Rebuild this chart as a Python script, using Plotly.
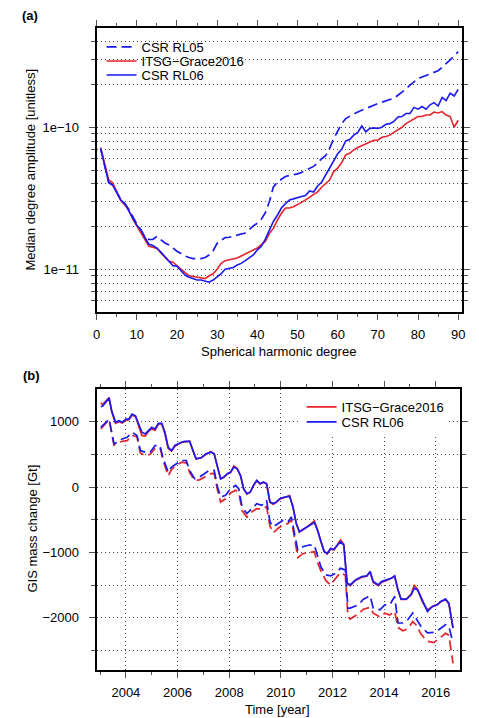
import plotly.graph_objects as go
import math

# ---------------- Panel (a) data ----------------
degree = list(range(1, 91))

csr_rl05 = [
    7.1e-11, 5.3e-11, 4.1e-11, 3.95e-11, 3.5e-11, 3.1e-11, 2.9e-11, 2.65e-11, 2.35e-11, 2.08e-11,
    1.9e-11, 1.68e-11, 1.62e-11, 1.62e-11, 1.7e-11, 1.6e-11, 1.53e-11, 1.48e-11, 1.4e-11, 1.34e-11,
    1.29e-11, 1.24e-11, 1.21e-11, 1.19e-11, 1.19e-11, 1.19e-11, 1.21e-11, 1.26e-11, 1.35e-11, 1.52e-11,
    1.6e-11, 1.67e-11, 1.68e-11, 1.71e-11, 1.74e-11, 1.76e-11, 1.8e-11, 1.9e-11, 2.02e-11, 2.11e-11,
    2.25e-11, 2.5e-11, 3.0e-11, 3.8e-11, 4.1e-11, 4.3e-11, 4.5e-11, 4.58e-11, 4.62e-11, 4.7e-11,
    4.8e-11, 4.95e-11, 5.1e-11, 5.3e-11, 5.6e-11, 6.0e-11, 6.3e-11, 7.1e-11, 8.3e-11, 9.4e-11,
    1.06e-10, 1.15e-10, 1.2e-10, 1.24e-10, 1.28e-10, 1.32e-10, 1.36e-10, 1.39e-10, 1.43e-10, 1.47e-10,
    1.5e-10, 1.54e-10, 1.56e-10, 1.6e-10, 1.68e-10, 1.76e-10, 1.86e-10, 1.98e-10, 2.1e-10, 2.2e-10,
    2.26e-10, 2.32e-10, 2.36e-10, 2.42e-10, 2.5e-10, 2.65e-10, 2.8e-10, 2.98e-10, 3.18e-10, 3.41e-10,
]

itsg_2016 = [
    7.2e-11, 5.6e-11, 4.25e-11, 4.07e-11, 3.5e-11, 3.05e-11, 2.84e-11, 2.6e-11, 2.25e-11, 2.02e-11,
    1.8e-11, 1.6e-11, 1.45e-11, 1.43e-11, 1.4e-11, 1.3e-11, 1.22e-11, 1.14e-11, 1.12e-11, 1.06e-11,
    1.0e-11, 9.5e-12, 9.0e-12, 8.9e-12, 8.8e-12, 8.8e-12, 8.6e-12, 9.0e-12, 9.3e-12, 1.0e-11,
    1.1e-11, 1.15e-11, 1.17e-11, 1.19e-11, 1.2e-11, 1.24e-11, 1.28e-11, 1.31e-11, 1.35e-11, 1.41e-11,
    1.49e-11, 1.57e-11, 1.79e-11, 1.94e-11, 2.22e-11, 2.48e-11, 2.7e-11, 2.7e-11, 2.76e-11, 2.84e-11,
    2.96e-11, 3.08e-11, 3.2e-11, 3.34e-11, 3.5e-11, 3.78e-11, 4.0e-11, 4.25e-11, 4.87e-11, 5.15e-11,
    5.64e-11, 6.4e-11, 6.56e-11, 6.93e-11, 7.2e-11, 7.4e-11, 7.6e-11, 7.9e-11, 8.1e-11, 8.1e-11,
    8.5e-11, 8.6e-11, 8.8e-11, 9.2e-11, 9.6e-11, 1.0e-10, 1.06e-10, 1.1e-10, 1.14e-10, 1.19e-10,
    1.19e-10, 1.22e-10, 1.22e-10, 1.28e-10, 1.26e-10, 1.29e-10, 1.22e-10, 1.19e-10, 1.0e-10, 1.12e-10,
]

csr_rl06 = [
    7.1e-11, 5.3e-11, 4.07e-11, 3.9e-11, 3.5e-11, 3.08e-11, 2.9e-11, 2.6e-11, 2.3e-11, 2.04e-11,
    1.9e-11, 1.68e-11, 1.5e-11, 1.47e-11, 1.41e-11, 1.32e-11, 1.23e-11, 1.15e-11, 1.06e-11, 1.05e-11,
    9.8e-12, 9.1e-12, 8.8e-12, 8.6e-12, 8.4e-12, 8.4e-12, 8.2e-12, 8.1e-12, 8.4e-12, 8.8e-12,
    9.3e-12, 1.0e-11, 1.02e-11, 1.03e-11, 1.07e-11, 1.1e-11, 1.15e-11, 1.2e-11, 1.26e-11, 1.37e-11,
    1.45e-11, 1.63e-11, 1.9e-11, 2.17e-11, 2.4e-11, 2.7e-11, 2.9e-11, 3.08e-11, 3.13e-11, 3.2e-11,
    3.25e-11, 3.3e-11, 3.56e-11, 3.5e-11, 3.86e-11, 4.1e-11, 4.6e-11, 5.15e-11, 5.9e-11, 6.5e-11,
    7.0e-11, 8.0e-11, 8.2e-11, 8.8e-11, 9.2e-11, 1.02e-10, 9.3e-11, 9.8e-11, 9.9e-11, 9.8e-11,
    1.0e-10, 1.05e-10, 1.06e-10, 1.1e-10, 1.18e-10, 1.19e-10, 1.25e-10, 1.25e-10, 1.38e-10, 1.34e-10,
    1.4e-10, 1.34e-10, 1.44e-10, 1.49e-10, 1.41e-10, 1.62e-10, 1.54e-10, 1.74e-10, 1.66e-10, 1.85e-10,
]

# ---------------- Panel (b) data ----------------
time_solid = [
    2003.03, 2003.10, 2003.35, 2003.45, 2003.60, 2003.73, 2003.86, 2004.00, 2004.12, 2004.24,
    2004.37, 2004.49, 2004.62, 2004.75, 2004.87, 2005.00, 2005.13, 2005.26, 2005.39, 2005.51,
    2005.64, 2005.77, 2005.90, 2006.02, 2006.15, 2006.28, 2006.47, 2006.60, 2006.72, 2006.91,
    2007.10, 2007.29, 2007.42, 2007.55, 2007.67, 2007.80, 2007.93, 2008.06, 2008.18, 2008.31,
    2008.44, 2008.56, 2008.69, 2008.82, 2008.94, 2009.07, 2009.20, 2009.33, 2009.45, 2009.58,
    2009.71, 2009.83, 2009.96, 2010.15, 2010.34, 2010.47, 2010.60, 2010.72, 2010.91, 2011.10,
    2011.30, 2011.42, 2011.55, 2011.68, 2011.80, 2011.93, 2012.06, 2012.19, 2012.31, 2012.44,
    2012.57, 2012.69, 2012.89, 2013.14, 2013.33, 2013.46, 2013.58, 2013.78, 2013.90, 2014.09,
    2014.28, 2014.41, 2014.54, 2014.66, 2014.86, 2015.05, 2015.17, 2015.30, 2015.49, 2015.68,
    2015.87, 2016.06, 2016.19, 2016.38, 2016.51, 2016.67,
]

itsg_mass = [
    1290, 1260, 1370, 1150, 975, 1000, 980, 1020, 1030, 1100,
    1080, 940, 790, 780, 850, 890, 870, 960, 970, 820,
    590, 550, 625, 655, 680, 690, 700, 550, 430, 445,
    500, 545, 510, 300, 125, 150, 200, 225, 320, 285,
    170, -30, -110, -80, 20, 95, 45, 70, 50, -235,
    -265, -235, -185, -160, -130, -300, -560, -690, -640, -585,
    -520, -650, -830, -985, -1025, -950, -965, -880, -810, -875,
    -1480, -1510, -1430, -1380, -1365, -1300, -1460, -1510, -1460, -1430,
    -1400, -1370, -1580, -1720, -1720, -1640, -1500, -1570, -1760, -1880,
    -1830, -1800, -1760, -1720, -1790, -2160,
]

csr_rl06_mass = [
    1230, 1240, 1360, 1167, 990, 1015, 990, 1040, 1040, 1117,
    1090, 964, 838, 812, 863, 914, 888, 975, 975, 838,
    609, 558, 635, 660, 685, 700, 700, 558, 431, 447,
    508, 533, 508, 305, 127, 152, 203, 228, 305, 279,
    178, -25, -102, -76, 25, 102, 51, 76, 51, -228,
    -254, -228, -178, -152, -142, -305, -558, -685, -635, -584,
    -543, -660, -838, -990, -1015, -939, -954, -888, -838, -888,
    -1472, -1497, -1421, -1370, -1360, -1294, -1447, -1497, -1447, -1421,
    -1396, -1360, -1574, -1716, -1716, -1650, -1548, -1574, -1751, -1904,
    -1827, -1802, -1751, -1716, -1777, -2157,
]

time_dashed = [
    2003.03, 2003.35, 2003.54, 2003.67, 2003.86,
    2004.05, 2004.24, 2004.43, 2004.56, 2004.75, 2004.94,
    2005.13, 2005.32, 2005.45, 2005.64, 2005.77, 2005.96,
    2006.15, 2006.34, 2006.47, 2006.66, 2006.85,
    2007.04, 2007.23, 2007.42, 2007.55, 2007.67, 2007.86,
    2008.06, 2008.25, 2008.37, 2008.50, 2008.69, 2008.88,
    2009.07, 2009.26, 2009.45, 2009.58, 2009.71, 2009.90,
    2010.09, 2010.28, 2010.41, 2010.53, 2010.66, 2010.85,
    2011.10, 2011.30, 2011.42, 2011.55, 2011.74, 2011.93,
    2012.12, 2012.31, 2012.50, 2012.60, 2012.69,
    2013.01, 2013.20, 2013.46, 2013.58, 2013.84,
    2014.03, 2014.22, 2014.41, 2014.54, 2014.73, 2014.92,
    2015.11, 2015.24, 2015.43, 2015.68, 2015.93,
    2016.12, 2016.38, 2016.51, 2016.67,
]

itsg_mass_dashed = [
    888, 1030, 640, 670, 700,
    710, 790, 770, 520, 480, 500,
    590, 600, 400, 170, 270, 330,
    380, 370, 220, 100, 110,
    150, 200, 210, -50, -230, -180,
    -90, -50, -80, -360, -460, -380,
    -330, -340, -300, -600, -700, -630,
    -580, -560, -500, -800, -1080, -1020,
    -1000, -990, -1150, -1280, -1430, -1500,
    -1400, -1310, -1350, -1980, -2020,
    -1940, -1870, -1840, -1930, -1990,
    -1930, -1960, -1900, -2150, -2200, -2170,
    -2060, -2110, -2250, -2360, -2380,
    -2320, -2240, -2270, -2700,
]

csr_rl06_mass_dashed = [
    914, 1040, 660, 685, 736,
    761, 838, 787, 558, 533, 533,
    635, 635, 431, 228, 305, 355,
    406, 406, 254, 127, 152,
    203, 254, 254, 0, -152, -127,
    -25, 25, -25, -305, -406, -330,
    -254, -279, -203, -533, -609, -558,
    -508, -533, -457, -711, -965, -914,
    -888, -888, -1041, -1218, -1345, -1360,
    -1320, -1244, -1269, -1853, -1853,
    -1802, -1716, -1665, -1853, -1878,
    -1802, -1802, -1675, -2081, -2081, -2030,
    -1929, -2005, -2132, -2233, -2223,
    -2183, -2107, -2132, -2386,
]

# tick labels
deg_ticks = [0, 10, 20, 30, 40, 50, 60, 70, 80, 90]
amp_ticks = [1e-11, 1e-10]
amp_ticktext = ["1e\u221211", "1e\u221210"]
year_ticks = [2004, 2006, 2008, 2010, 2012, 2014, 2016]
mass_ticks = [-2000, -1000, 0, 1000]

# ---------------- Figure ----------------
W, H = 479, 718
BLUE = "#1a1af0"
RED = "#e5232a"
FONT = "Liberation Sans, Arial, Helvetica, sans-serif"
DASH = "10px,5px"
GRID_DASH = "1px,3px"
GRID_COLOR = "#4a4a4a"
TICK_COLOR = "#555555"

fig = go.Figure()

fig.add_trace(go.Scatter(x=degree, y=csr_rl05, mode="lines", name="CSR RL05",
                         line=dict(color=BLUE, width=1.7, dash=DASH),
                         xaxis="x", yaxis="y", legend="legend"))
fig.add_trace(go.Scatter(x=degree, y=itsg_2016, mode="lines", name="ITSG\u2212Grace2016",
                         line=dict(color=RED, width=1.6),
                         xaxis="x", yaxis="y", legend="legend2"))
fig.add_trace(go.Scatter(x=degree, y=csr_rl06, mode="lines", name="CSR RL06",
                         line=dict(color=BLUE, width=1.6),
                         xaxis="x", yaxis="y", legend="legend3"))

fig.add_trace(go.Scatter(x=time_dashed, y=itsg_mass_dashed, mode="lines", showlegend=False,
                         line=dict(color=RED, width=1.7, dash=DASH), xaxis="x2", yaxis="y2"))
fig.add_trace(go.Scatter(x=time_dashed, y=csr_rl06_mass_dashed, mode="lines", showlegend=False,
                         line=dict(color=BLUE, width=1.7, dash=DASH), xaxis="x2", yaxis="y2"))
fig.add_trace(go.Scatter(x=time_solid, y=itsg_mass, mode="lines", name="ITSG\u2212Grace2016",
                         line=dict(color=RED, width=1.7), xaxis="x2", yaxis="y2", legend="legend4"))
fig.add_trace(go.Scatter(x=time_solid, y=csr_rl06_mass, mode="lines", name="CSR RL06",
                         line=dict(color=BLUE, width=1.7), xaxis="x2", yaxis="y2", legend="legend5"))


def px_x(p):
    return p / W


def px_y(p):
    return 1 - p / H


common_axis = dict(showline=True, linecolor="black", linewidth=2, mirror="ticks",
                   ticks="outside", tickcolor=TICK_COLOR, tickwidth=1.2, ticklen=6,
                   zeroline=False, tickfont=dict(size=13, color="black", family=FONT))

AMP_RANGE = [math.log10(5e-12), math.log10(5e-10)]
DEG_RANGE = [0, 91]
YEAR_RANGE = [2002.867, 2016.95]
MASS_RANGE = [-2800, 1500]

layout_axes = dict(
    xaxis=dict(domain=[px_x(94), px_x(465)], anchor="y", range=DEG_RANGE,
               tickmode="array", tickvals=deg_ticks, showgrid=False, ticklabelstandoff=3,
               minor=dict(tickmode="array", tickvals=[5, 15, 25, 35, 45, 55, 65, 75, 85],
                          ticklen=3, tickcolor=TICK_COLOR, showgrid=False),
               **common_axis),
    yaxis=dict(domain=[px_y(312), px_y(28)], anchor="x", type="log", range=AMP_RANGE,
               tickmode="array", tickvals=amp_ticks, ticktext=amp_ticktext,
               ticklabelstandoff=7,
               showgrid=True, gridcolor=GRID_COLOR, gridwidth=1, griddash=GRID_DASH,
               minor=dict(tickmode="array",
                          tickvals=[6e-12, 7e-12, 8e-12, 9e-12,
                                    2e-11, 3e-11, 4e-11, 5e-11, 6e-11, 7e-11, 8e-11, 9e-11,
                                    2e-10, 3e-10, 4e-10],
                          ticklen=4, tickcolor=TICK_COLOR, showgrid=True,
                          gridcolor=GRID_COLOR, gridwidth=1, griddash=GRID_DASH),
               **common_axis),
    xaxis2=dict(domain=[px_x(94), px_x(463)], anchor="y2", range=YEAR_RANGE,
                tickmode="array", tickvals=year_ticks, tickformat="d", ticklabelstandoff=3,
                showgrid=True, gridcolor=GRID_COLOR, gridwidth=1, griddash=GRID_DASH,
                minor=dict(tickmode="array", tickvals=[2003, 2005, 2007, 2009, 2011, 2013, 2015],
                           ticklen=3, tickcolor=TICK_COLOR, showgrid=False),
                **common_axis),
    yaxis2=dict(domain=[px_y(670), px_y(389)], anchor="x2", range=MASS_RANGE,
                tickmode="array", tickvals=mass_ticks, ticklabelstandoff=7,
                showgrid=True, gridcolor=GRID_COLOR, gridwidth=1, griddash=GRID_DASH,
                minor=dict(tickmode="array", tickvals=[-2500, -1500, -500, 500],
                           ticklen=4, tickcolor=TICK_COLOR, showgrid=True,
                           gridcolor=GRID_COLOR, gridwidth=1, griddash=GRID_DASH),
                **common_axis),
)


def legend_at(xpx, ypx):
    return dict(x=px_x(xpx), y=px_y(ypx), xanchor="left", yanchor="middle",
                bgcolor="rgba(0,0,0,0)", borderwidth=0,
                font=dict(size=13, color="black", family=FONT), itemwidth=30)


def frac(rng, f):
    return rng[0] + (rng[1] - rng[0]) * f


# white masks (between grid and traces) that keep the grid out of the legend areas
shapes = [
    dict(type="rect", xref="x", yref="y", layer="between",
         x0=frac(DEG_RANGE, 0.019), x1=frac(DEG_RANGE, 0.412),
         y0=frac(AMP_RANGE, 0.78), y1=AMP_RANGE[1],
         fillcolor="white", line=dict(width=0)),
    dict(type="rect", xref="x2", yref="y2", layer="between",
         x0=frac(YEAR_RANGE, 0.558), x1=frac(YEAR_RANGE, 0.965),
         y0=frac(MASS_RANGE, 0.83), y1=MASS_RANGE[1],
         fillcolor="white", line=dict(width=0)),
]

annotations = [
    dict(text="<b>(a)</b>", x=px_x(16), y=px_y(16), xref="paper", yref="paper",
         xanchor="left", yanchor="middle", showarrow=False, font=dict(size=13, family=FONT)),
    dict(text="<b>(b)</b>", x=px_x(17), y=px_y(375), xref="paper", yref="paper",
         xanchor="left", yanchor="middle", showarrow=False, font=dict(size=13, family=FONT)),
    dict(text="Median degree amplitude [unitless]", x=px_x(27), y=px_y(170), xref="paper",
         yref="paper", textangle=-90, xanchor="center", yanchor="middle", showarrow=False,
         font=dict(size=13, family=FONT)),
    dict(text="Spherical harmonic degree", x=px_x(279), y=px_y(352), xref="paper",
         yref="paper", xanchor="center", yanchor="middle", showarrow=False,
         font=dict(size=13, family=FONT)),
    dict(text="GIS mass change [Gt]", x=px_x(28), y=px_y(529), xref="paper",
         yref="paper", textangle=-90, xanchor="center", yanchor="middle", showarrow=False,
         font=dict(size=13, family=FONT)),
    dict(text="Time [year]", x=px_x(278), y=px_y(709), xref="paper",
         yref="paper", xanchor="center", yanchor="middle", showarrow=False,
         font=dict(size=13, family=FONT)),
]

fig.update_layout(
    width=W, height=H, margin=dict(l=0, r=0, t=0, b=0),
    paper_bgcolor="white", plot_bgcolor="white",
    font=dict(family=FONT, size=13, color="black"),
    annotations=annotations, shapes=shapes,
    legend=legend_at(99, 47), legend2=legend_at(99, 61), legend3=legend_at(99, 75),
    legend4=legend_at(302, 407), legend5=legend_at(302, 422),
    **layout_axes,
)

fig.write_html("out.html", config={"displayModeBar": False},
               post_script="document.body.style.margin='0px';")
